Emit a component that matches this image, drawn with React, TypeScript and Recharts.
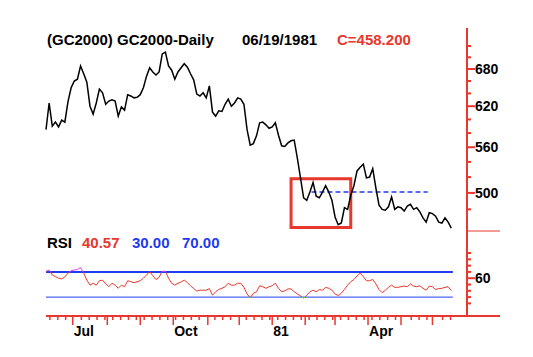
import React from "react";
import { LineChart, Line, XAxis, YAxis, ReferenceLine, ReferenceArea } from "recharts";

const RED = "#e8372c";
const BLUE = "#1f3bf0";
const MAGENTA = "#e040e0";
const GREEN = "#6cdc1e";
const FONT = '"Liberation Sans", Arial, sans-serif';

// one value every STEP trading sessions, first session early June 1980
const STEP = 2;

const price = [
  585, 625, 590, 596, 589, 599, 596, 627, 649, 660,
  663, 685, 672, 658, 620, 608, 625, 647, 641, 623,
  628, 630, 628, 605, 619, 614, 638, 636, 633, 634,
  638, 649, 668, 682, 675, 670, 675, 706, 709, 685,
  678, 663, 675, 682, 689, 683, 672, 662, 639, 636,
  641, 633, 652, 611, 605, 613, 612, 623, 631, 620,
  625, 633, 631, 623, 585, 563, 565, 576, 595, 596,
  592, 587, 589, 595, 577, 562, 561, 566, 569, 570,
  545, 519, 494, 491, 501, 513, 496, 494, 501, 509,
  501, 491, 471, 462, 464, 482, 480, 497, 509, 528,
  533, 537, 519, 520, 531, 506, 485, 480, 479, 483,
  495, 480, 483, 482, 478, 484, 486, 480, 482, 477,
  470, 465, 476, 475, 472, 465, 464, 470, 465, 458.2,
];

const rsi = [
  71, 73, 65, 62.5, 60, 59, 62, 68, 72, 73,
  74, 77, 68, 57, 49, 52, 49, 56, 57, 51,
  46.5, 52, 49, 44, 49, 46.5, 56, 54.5, 53, 54.5,
  56, 60, 65, 70.5, 64, 58, 61.5, 71, 71, 60,
  52, 49, 52, 54, 57, 53, 48, 43.5, 39.6, 41,
  41, 41, 43.5, 33, 38.5, 42.3, 44, 46.5, 52, 49,
  49, 52, 52, 45.5, 35, 29, 36, 38.5, 48, 46.5,
  44, 46.5, 48, 52, 44, 38.5, 40, 43, 43, 38.5,
  35, 32, 28, 33, 38.5, 41, 38.5, 42, 41, 45.5,
  44, 41, 35, 32.5, 36, 42.3, 49, 54.5, 58, 63.6,
  68, 62.5, 56, 56, 58, 51, 42, 37, 41, 45.5,
  49, 45.5, 45.5, 46.5, 47.6, 46.5, 51, 47.6, 46.5, 48,
  44, 41, 47.6, 46.5, 42, 43.5, 44, 45.5, 46.5, 40.57,
];

// session index of the first session of each month, Jul 1980 .. Jun 1981
const monthStarts = [17, 39, 60, 81, 103, 123, 144, 165, 184, 205, 226, 246];
const monthLabels: Record<number, string> = { 17: "Jul", 81: "Oct", 144: "81", 205: "Apr" };
const weekTicks = [
  2.5, 7.5, 12.5, 22.5, 27.5, 32.5, 37.5, 42.5, 47.5, 52.5, 57.5, 62.5, 67.5, 72.5, 77.5,
  82.5, 87.5, 92.5, 97.5, 107.5, 112.5, 117.5, 127.5, 132.5, 137.5, 142.5, 147.5, 152.5,
  157.5, 162.5, 167.5, 172.5, 177.5, 182.5, 187.5, 192.5, 197.5, 202.5, 207.5, 212.5,
  217.5, 222.5, 232.5, 237.5, 242.5, 252.5, 257.5,
];

const priceTicks = [480, 500, 520, 540, 560, 580, 600, 620, 640, 660, 680, 700, 720];
const priceLabels = [500, 560, 620, 680];
const rsiTicks = [20, 30, 40, 50, 60, 70, 80, 90, 100];
const rsiLabels = [60];

const boxFrom = 156;
const boxTo = 194;
const boxLow = 459;
const boxHigh = 518;
const dashLevel = 501;
const dashFrom = 169;
const dashTo = 243;
const rsiEnd = 259;

const rows = price.map((p, i) => ({ day: i * STEP, price: p, rsi: rsi[i] }));

const RSI_MAX = 135;
const RSI_PLOT_H = 85;

const YTick = (labels: number[]) => (props: any) => {
  const { x, y, payload } = props;
  const major = labels.includes(payload.value);
  return (
    <g>
      <line x1={x} x2={x + (major ? 8 : 4)} y1={y} y2={y} stroke={RED} strokeWidth={2} />
      {major && (
        <text x={x + 8} y={y + 5} fill="#000" fontSize={14} fontWeight="bold" fontFamily={FONT}>
          {payload.value}
        </text>
      )}
    </g>
  );
};

const XTick = (props: any) => {
  const { x, y, payload } = props;
  const month = monthStarts.includes(payload.value);
  const label = monthLabels[payload.value];
  return (
    <g>
      <line x1={x} x2={x} y1={y} y2={y + (month ? 9 : 4)} stroke={RED} strokeWidth={1.5} />
      {label && (
        <text x={x + 1} y={y + 20} fill="#000" fontSize={14} fontWeight="bold" fontFamily={FONT}>
          {label}
        </text>
      )}
    </g>
  );
};

export default function App() {
  const y70 = RSI_PLOT_H * (1 - 70 / RSI_MAX);
  const y30 = RSI_PLOT_H * (1 - 30 / RSI_MAX);
  const o70 = y70 / RSI_PLOT_H;
  const o30 = y30 / RSI_PLOT_H;

  return (
    <div style={{ position: "absolute", left: 0, top: 0, width: 533, height: 357, background: "#fff" }}>
      <div style={{ position: "absolute", left: 0, top: 0 }}>
        <LineChart width={533} height={231} data={rows} margin={{ top: 28, right: 0, bottom: 0, left: 46 }}>
          <XAxis dataKey="day" type="number" domain={[0, 268]} hide />
          <YAxis
            orientation="right"
            width={66}
            scale="log"
            type="number"
            domain={[454.9, 752.8]}
            allowDataOverflow
            ticks={priceTicks}
            interval={0}
            tickSize={0}
            tickMargin={0}
            tickLine={false}
            axisLine={{ stroke: RED, strokeWidth: 2 }}
            tick={YTick(priceLabels)}
          />
          <ReferenceArea
            x1={boxFrom}
            x2={boxTo}
            y1={boxLow}
            y2={boxHigh}
            fill="none"
            fillOpacity={0}
            stroke={RED}
            strokeWidth={3}
          />
          <ReferenceLine
            segment={[{ x: dashFrom, y: dashLevel }, { x: dashTo, y: dashLevel }]}
            stroke={BLUE}
            strokeWidth={1.5}
            strokeDasharray="5 3"
          />
          <Line
            type="linear"
            dataKey="price"
            stroke="#000"
            strokeWidth={1.5}
            dot={false}
            isAnimationActive={false}
          />
        </LineChart>
      </div>

      <div style={{ position: "absolute", left: 0, top: 231 }}>
        <LineChart width={533} height={126} data={rows} margin={{ top: 0, right: 0, bottom: 0, left: 46 }}>
          <defs>
            <linearGradient id="rsiStroke" gradientUnits="userSpaceOnUse" x1="0" y1="0" x2="0" y2={RSI_PLOT_H}>
              <stop offset={0} stopColor={MAGENTA} />
              <stop offset={o70} stopColor={MAGENTA} />
              <stop offset={o70} stopColor={RED} />
              <stop offset={o30} stopColor={RED} />
              <stop offset={o30} stopColor={GREEN} />
              <stop offset={1} stopColor={GREEN} />
            </linearGradient>
          </defs>
          <XAxis
            dataKey="day"
            type="number"
            domain={[0, 268]}
            height={41}
            ticks={[...weekTicks, ...monthStarts]}
            interval={0}
            tickSize={0}
            tickMargin={0}
            tickLine={false}
            axisLine={{ stroke: RED, strokeWidth: 2 }}
            tick={XTick}
          />
          <YAxis
            orientation="right"
            width={66}
            type="number"
            domain={[0, RSI_MAX]}
            allowDataOverflow
            ticks={rsiTicks}
            interval={0}
            tickSize={0}
            tickMargin={0}
            tickLine={false}
            axisLine={{ stroke: RED, strokeWidth: 2 }}
            tick={YTick(rsiLabels)}
          />
          <ReferenceLine segment={[{ x: 0, y: 70 }, { x: rsiEnd, y: 70 }]} stroke={BLUE} strokeWidth={2} />
          <ReferenceLine segment={[{ x: 0, y: 30 }, { x: rsiEnd, y: 30 }]} stroke={BLUE} strokeWidth={1} />
          <Line
            type="linear"
            dataKey="rsi"
            stroke="url(#rsiStroke)"
            strokeWidth={1}
            dot={false}
            isAnimationActive={false}
          />
        </LineChart>
      </div>

      <svg width={533} height={357} style={{ position: "absolute", left: 0, top: 0, pointerEvents: "none" }}>
        <g fontFamily={FONT} fontWeight="bold" fontSize={15}>
          <text x={47} y={45} fill="#000">(GC2000) GC2000-Daily</text>
          <text x={242} y={45} fill="#000">06/19/1981</text>
          <text x={337} y={45} fill={RED}>C=458.200</text>
          <text x={47} y={248} fill="#000">RSI</text>
          <text x={82} y={248} fill={RED}>40.57</text>
          <text x={132} y={248} fill={BLUE}>30.00</text>
          <text x={182} y={248} fill={BLUE}>70.00</text>
        </g>
        <line x1={467} x2={500} y1={231} y2={231} stroke={RED} strokeWidth={1} />
        <line x1={467} x2={500} y1={316} y2={316} stroke={RED} strokeWidth={2} />
      </svg>
    </div>
  );
}
